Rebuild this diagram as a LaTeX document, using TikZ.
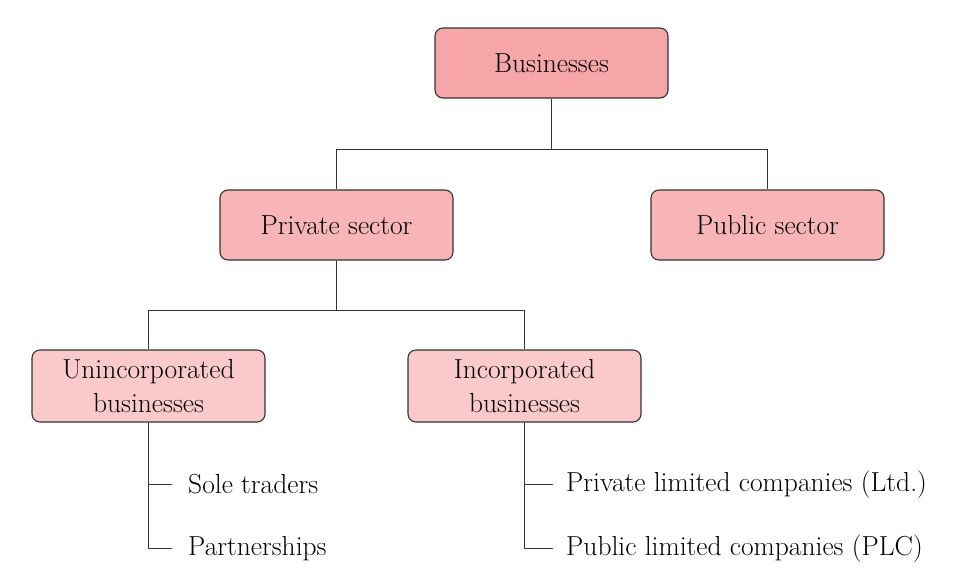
\documentclass[tikz,border=0pt]{standalone}
\usetikzlibrary{positioning}
\definecolor{lvlA}{HTML}{F6A6A8}
\definecolor{lvlB}{HTML}{F7B5B8}
\definecolor{lvlC}{HTML}{F9C9CB}
\definecolor{edgec}{HTML}{333333}
\tikzset{
  box/.style={draw=edgec, line width=1.1pt, rounded corners=8pt, minimum width=233pt, align=center, inner sep=0pt, font=\fontsize{27.5}{34}\selectfont},
  boxA/.style={box, fill=lvlA, minimum height=70pt},
  boxB/.style={box, fill=lvlB, minimum height=70pt},
  boxC/.style={box, fill=lvlC, minimum height=72pt},
  leaf/.style={anchor=west, inner ysep=0pt, font=\fontsize{27.5}{30}\selectfont},
  conn/.style={draw=edgec, line width=1.1pt}
}
\begin{document}
\begin{tikzpicture}[x=1pt,y=-1pt]
\useasboundingbox (0,0) rectangle (958,579);
\node[boxA] (bus) at (551.5,63) {Businesses};
\node[boxB] (priv) at (336.5,225) {Private sector};
\node[boxB] (pub) at (767.5,225) {Public sector};
\node[boxC] (unc) at (148.5,386) {Unincorporated\\businesses};
\node[boxC] (inc) at (524.5,386) {Incorporated\\businesses};
\node[leaf, inner xsep=16pt] (sole) at (172,484.5) {Sole traders};
\node[leaf, inner xsep=16pt] (part) at (172,548.5) {Partnerships};
\node[leaf, inner xsep=13pt] (ltd) at (553,484.5) {Private limited companies (Ltd.)};
\node[leaf, inner xsep=13pt] (plc) at (553,548.5) {Public limited companies (PLC)};
\draw[conn] (bus.south) -- ++(0,50.5) coordinate (j1);
\draw[conn] (j1) -| (priv.north);
\draw[conn] (j1) -| (pub.north);
\draw[conn] (priv.south) -- ++(0,49.5) coordinate (j2);
\draw[conn] (j2) -| (unc.north);
\draw[conn] (j2) -| (inc.north);
\draw[conn] (unc.south) |- (sole.west);
\draw[conn] (unc.south) |- (part.west);
\draw[conn] (inc.south) |- (ltd.west);
\draw[conn] (inc.south) |- (plc.west);
\end{tikzpicture}
\end{document}
